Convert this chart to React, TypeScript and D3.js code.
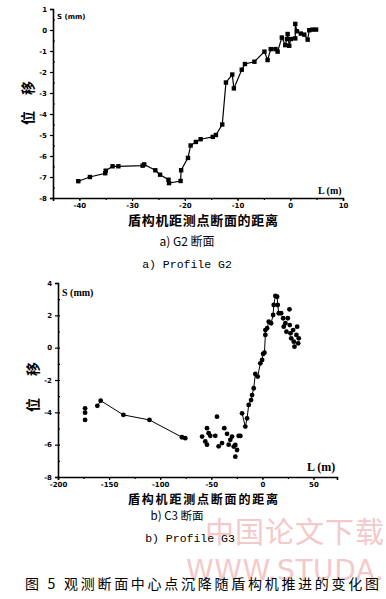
import React, { useEffect, useRef } from 'react';
import * as d3 from 'd3';

// G2 profile: distance of shield machine (m) and settlement (mm)
const g2Dist = [-40.2, -38, -35.1, -35, -33.7, -32.6, -28, -27.7, -25.6, -24.7, -23.1, -23, -20.8, -20.7, -19.4, -18.9, -17.9, -17, -14.7, -14.1, -12.9, -12.2, -11, -10.7, -9.2, -8.6, -6.8, -4.9, -4.3, -3.7, -2.8, -2.4, -1.6, -0.95, -0.63, -0.5, -0.2, 0.1, 0.95, 0.95, 1.27, 2, 2.66, 3.3, 3.6, 4.2, 4.9];
const g2Settle = [-7.2, -7, -6.82, -6.7, -6.49, -6.49, -6.46, -6.4, -6.68, -6.89, -7.13, -7.29, -7.19, -6.68, -6.09, -5.5, -5.33, -5.2, -5.09, -5, -4.5, -2.5, -2.12, -2.78, -1.89, -1.62, -1.51, -1.03, -1.43, -0.91, -0.91, -1.03, -0.36, -0.72, -0.43, -0.19, -0.75, -0.43, -0.4, 0.29, -0.06, -0.17, -0.22, -0.46, -0.01, 0.02, 0.02];

// G3 profile, early readings joined by a line
const g3FarDist = [-161.5, -158.2, -136, -110.5, -78.7, -75.5];
const g3FarSettle = [-3.6, -3.28, -4.16, -4.47, -5.54, -5.6];
// loose readings
const g3LooseDist = [-173.5, -173.5, -173.5, -59, -55.9, -54.2, -54.2, -52.6, -51, -46.1, -44.4, -42.8, -39.5, -37.3, -34.6, -33, -31.4, -29.7, -28.1, -26.5, -26.5, -24.8, -23.2, -21.6];
const g3LooseSettle = [-3.75, -4.02, -4.47, -5.5, -5.8, -6, -4.98, -5.29, -5.45, -5.45, -4.27, -6.1, -5.9, -4.98, -5.33, -6, -5.7, -5.5, -6.12, -6.74, -6.02, -6.33, -5.46, -5.46];
// rising part, joined
const g3RiseDist = [-19.9, -16.7, -15, -13.4, -11.1, -10.1, -8.5, -6.9, -4.6, -2, -0.3, 0.7, 2, 2.9, 2.9, 4.6, 6.2, 8.5, 10.5, 11.1, 12.7, 14.4, 15, 16, 18.3];
const g3RiseSettle = [-4.06, -4.88, -4.37, -3.54, -3.24, -2.93, -2.51, -1.63, -1.79, -0.97, -0.76, -0.39, -0.31, 0.79, 1.09, 1.2, 1.61, 1.51, 2.02, 2.64, 3.2, 3.15, 2.64, 2.13, 2.13];
// scatter after the peak
const g3TailDist = [20.3, 20.9, 22.5, 23.5, 24.8, 26.5, 26.8, 27.5, 28.2, 30.1, 30.7, 31.4, 33.3, 34, 35, 35.6];
const g3TailSettle = [1.82, 1.3, 1.51, 0.99, 1.82, 2.37, 1.4, 0.89, 0.58, 1.09, 0.37, 0.06, 0.79, 1.3, 0.27, 0.58];

const g2XTicks = [-40, -30, -20, -10, 0, 10];
const g2YTicks = [1, 0, -1, -2, -3, -4, -5, -6, -7, -8];
const g3XTicks = [-200, -150, -100, -50, 0, 50];
const g3YTicks = [4, 2, 0, -2, -4, -6, -8];

const zip = (a: number[], b: number[]) => a.map((v, i) => [v, b[i]] as [number, number]);

export default function App() {
  const ref = useRef<SVGSVGElement>(null);

  useEffect(() => {
    document.body.style.margin = '0';
    const svg = d3.select(ref.current);
    svg.selectAll('*').remove();

    const drawAxes = (x: any, y: any, xt: number[], yt: number[], xMinor: number[], yMinor: number[]) => {
      const [y0] = y.range();
      const [x0] = x.range();
      const ax = svg.append('g').attr('transform', `translate(0,${y0})`)
        .call(d3.axisBottom(x).tickValues(xt).tickSize(3).tickPadding(2).tickFormat((d: any) => String(d)));
      svg.append('g').attr('transform', `translate(0,${y0})`)
        .call(d3.axisBottom(x).tickValues(xMinor).tickSize(2).tickFormat(() => ''))
        .select('.domain').remove();
      const ay = svg.append('g').attr('transform', `translate(${x0},0)`)
        .call(d3.axisLeft(y).tickValues(yt).tickSize(3).tickFormat((d: any) => String(d)));
      svg.append('g').attr('transform', `translate(${x0},0)`)
        .call(d3.axisRight(y).tickValues(yMinor).tickSize(2).tickFormat(() => ''))
        .select('.domain').remove();
      [ax, ay].forEach(a => {
        a.select('.domain').attr('stroke-width', 1.6);
        a.selectAll('text').attr('font-size', 7).attr('font-weight', 'bold').attr('font-family', 'DejaVu Sans');
      });
      svg.selectAll('.tick line').attr('stroke-width', 1.2);
    };

    // ---- chart a) G2
    const x1 = d3.scaleLinear().domain([-45, 10]).range([53, 343]);
    const y1 = d3.scaleLinear().domain([-8, 1]).range([198, 9]);
    drawAxes(x1, y1, g2XTicks, g2YTicks, d3.range(-45, 10, 5), d3.range(-7.5, 1, 1));

    const line1 = d3.line<[number, number]>().x(d => x1(d[0])).y(d => y1(d[1]));
    const g2 = zip(g2Dist, g2Settle);
    svg.append('path').attr('d', line1(g2)).attr('fill', 'none').attr('stroke', '#000').attr('stroke-width', 1.2);
    svg.append('g').selectAll('rect').data(g2).enter().append('rect')
      .attr('x', d => x1(d[0]) - 2.2).attr('y', d => y1(d[1]) - 2.2)
      .attr('width', 4.4).attr('height', 4.4).attr('fill', '#000');

    // ---- chart b) G3
    const x2 = d3.scaleLinear().domain([-200, 73]).range([58, 337]);
    const y2 = d3.scaleLinear().domain([-8, 4]).range([477, 283]);
    drawAxes(x2, y2, g3XTicks, g3YTicks, d3.range(-175, 73, 25), d3.range(-7, 4, 1));

    const line2 = d3.line<[number, number]>().x(d => x2(d[0])).y(d => y2(d[1]));
    const far = zip(g3FarDist, g3FarSettle);
    const rise = zip(g3RiseDist, g3RiseSettle);
    const loose = zip(g3LooseDist, g3LooseSettle);
    const tail = zip(g3TailDist, g3TailSettle);
    svg.append('path').attr('d', line2(far)).attr('fill', 'none').attr('stroke', '#000').attr('stroke-width', 1);
    svg.append('path').attr('d', line2(rise)).attr('fill', 'none').attr('stroke', '#000').attr('stroke-width', 1);
    svg.append('g').selectAll('circle').data([...far, ...rise, ...loose, ...tail]).enter().append('circle')
      .attr('cx', d => x2(d[0])).attr('cy', d => y2(d[1])).attr('r', 2.4).attr('fill', '#000');

    // ---- texts
    const txt = (s: string, x: number, y: number, size: number, opts: any = {}) => {
      const t = svg.append('text').attr('x', x).attr('y', y).attr('font-size', size)
        .attr('font-family', opts.family || 'Noto Sans CJK SC')
        .attr('font-weight', opts.weight || 'normal')
        .attr('text-anchor', opts.anchor || 'start')
        .attr('fill', opts.fill || '#000').text(s);
      if (opts.rotate) t.attr('transform', `rotate(-90,${x},${y})`);
      if (opts.len) t.attr('textLength', opts.len).attr('lengthAdjust', 'spacing');
      return t;
    };

    // watermark
    txt('中国论文下载', 205, 543, 29, { fill: '#f4c9c9', len: 179 });
    txt('WWW.STUDA.', 186, 580, 28, { family: 'DejaVu Sans', fill: '#f4c9c9', len: 198 });

    txt('S (mm)', 57, 19, 7, { family: 'DejaVu Sans', weight: 'bold' });
    txt('L (m)', 318, 194, 10, { family: 'Liberation Serif', weight: 'bold' });
    txt('位移', 33, 103, 14, { weight: 'bold', rotate: true, anchor: 'middle', len: 44 });
    txt('盾构机距测点断面的距离', 203, 225, 13, { weight: 'bold', anchor: 'middle', len: 150 });
    txt('a) G2 断面', 187, 246, 12, { anchor: 'middle' });
    txt('a) Profile G2', 187, 268, 11.5, { family: 'Liberation Mono', anchor: 'middle' });

    txt('S (mm)', 62, 296, 10, { family: 'Liberation Serif', weight: 'bold' });
    txt('L (m)', 307, 471, 12, { family: 'Liberation Serif', weight: 'bold' });
    txt('位移', 38, 387, 14, { weight: 'bold', rotate: true, anchor: 'middle', len: 50 });
    txt('盾构机距测点断面的距离', 203, 504, 12, { weight: 'bold', anchor: 'middle', len: 150 });
    txt('b) C3 断面', 177, 520, 11.5, { anchor: 'middle' });
    txt('b) Profile G3', 190, 542, 11.5, { family: 'Liberation Mono', anchor: 'middle' });

    txt('图 5   观测断面中心点沉降随盾构机推进的变化图', 25, 589, 14, { len: 354 });
  }, []);

  return <svg ref={ref} width={386} height={599} style={{ display: 'block', background: '#fff' }} />;
}
